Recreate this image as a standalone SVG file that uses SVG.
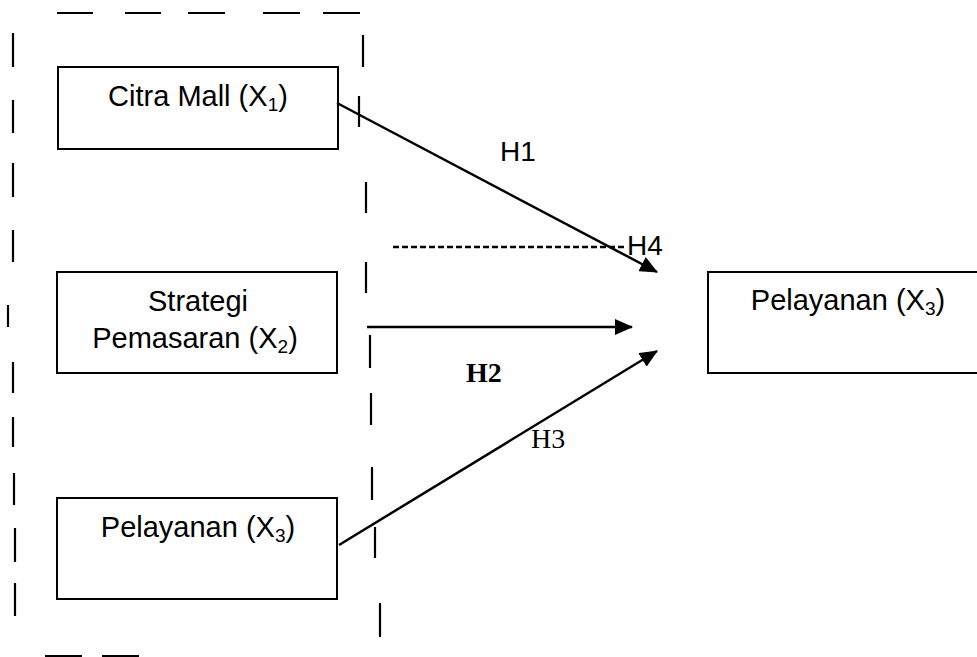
<svg xmlns="http://www.w3.org/2000/svg" width="977" height="657" viewBox="0 0 977 657">
<defs>
<style>
.box{fill:#fff;stroke:#000;stroke-width:2}
.lbl{font-family:"Liberation Sans",Arial,sans-serif;font-size:29px;fill:#000;text-anchor:middle}
.sub{font-size:19px}
.frame line{stroke:#000;stroke-width:2.2}
.conn{stroke:#000;stroke-width:2.5;fill:none}
.dash{stroke:#000;stroke-width:2.5;stroke-dasharray:6 3;fill:none}
.hs{font-family:"Liberation Sans",Arial,sans-serif;font-size:28px;fill:#000}
.hr{font-family:"Liberation Serif","Times New Roman",serif;font-size:28px;fill:#000}
</style>
<marker id="ahb" markerWidth="18" markerHeight="16" refX="17" refY="8" orient="auto" markerUnits="userSpaceOnUse" viewBox="0 0 18 16">
<path d="M0,0 L18,8 L0,16 z" fill="#000"/>
</marker>
</defs>
<rect width="977" height="657" fill="#fff"/>

<g id="frame" class="frame">
<line x1="57" y1="13" x2="93" y2="13"/>
<line x1="125" y1="13" x2="161" y2="13"/>
<line x1="188" y1="13" x2="225" y2="13"/>
<line x1="263" y1="13" x2="300" y2="13"/>
<line x1="323" y1="13" x2="360" y2="13"/>
<line x1="13" y1="33" x2="13" y2="67"/>
<line x1="13" y1="100" x2="13" y2="133"/>
<line x1="13" y1="163" x2="13" y2="197"/>
<line x1="13" y1="230" x2="13" y2="262"/>
<line x1="8" y1="305" x2="8" y2="327"/>
<line x1="13" y1="362" x2="13" y2="393"/>
<line x1="13" y1="417" x2="13" y2="447"/>
<line x1="14" y1="473" x2="14" y2="505"/>
<line x1="15" y1="528" x2="15" y2="562"/>
<line x1="15" y1="583" x2="15" y2="616"/>
<line x1="363" y1="35" x2="363" y2="67"/>
<line x1="359" y1="96" x2="359" y2="127"/>
<line x1="366" y1="182" x2="366" y2="213"/>
<line x1="366" y1="262" x2="366" y2="293"/>
<line x1="370" y1="335" x2="370" y2="368"/>
<line x1="371" y1="393" x2="371" y2="425"/>
<line x1="372" y1="467" x2="372" y2="500"/>
<line x1="375" y1="527" x2="375" y2="558"/>
<line x1="380" y1="603" x2="380" y2="637"/>
<line x1="45" y1="656" x2="82" y2="656"/>
<line x1="102" y1="656" x2="139" y2="656"/>
</g>

<g id="citra-mall">
<rect class="box" x="58" y="67" width="280" height="82"/>
<text class="lbl" x="198" y="106">Citra Mall (X<tspan class="sub" dy="5">1</tspan><tspan dy="-5">)</tspan></text>
</g>

<g id="strategi-pemasaran">
<rect class="box" x="57" y="272" width="280" height="101"/>
<text class="lbl" x="198" y="311">Strategi</text>
<text class="lbl" x="195" y="348">Pemasaran (X<tspan class="sub" dy="5">2</tspan><tspan dy="-5">)</tspan></text>
</g>

<g id="pelayanan-x3">
<rect class="box" x="57" y="498" width="280" height="101"/>
<text class="lbl" x="198" y="537">Pelayanan (X<tspan class="sub" dy="5">3</tspan><tspan dy="-5">)</tspan></text>
</g>

<g id="pelayanan-y">
<rect class="box" x="708" y="272" width="285" height="101"/>
<text class="lbl" x="848" y="310">Pelayanan (X<tspan class="sub" dy="5">3</tspan><tspan dy="-5">)</tspan></text>
</g>

<g id="connectors">
<line class="conn" x1="337" y1="103" x2="657" y2="272" marker-end="url(#ahb)"/>
<line class="conn" x1="367" y1="327" x2="632" y2="327" marker-end="url(#ahb)"/>
<line class="conn" x1="339" y1="545" x2="657" y2="351" marker-end="url(#ahb)"/>
<line class="dash" x1="393" y1="247" x2="627" y2="247"/>
</g>

<g id="labels">
<text class="hs" x="500" y="161">H1</text>
<text class="hs" x="627" y="255">H4</text>
<text class="hr" x="466" y="382" font-weight="bold">H2</text>
<text class="hr" x="531" y="448">H3</text>
</g>
</svg>
